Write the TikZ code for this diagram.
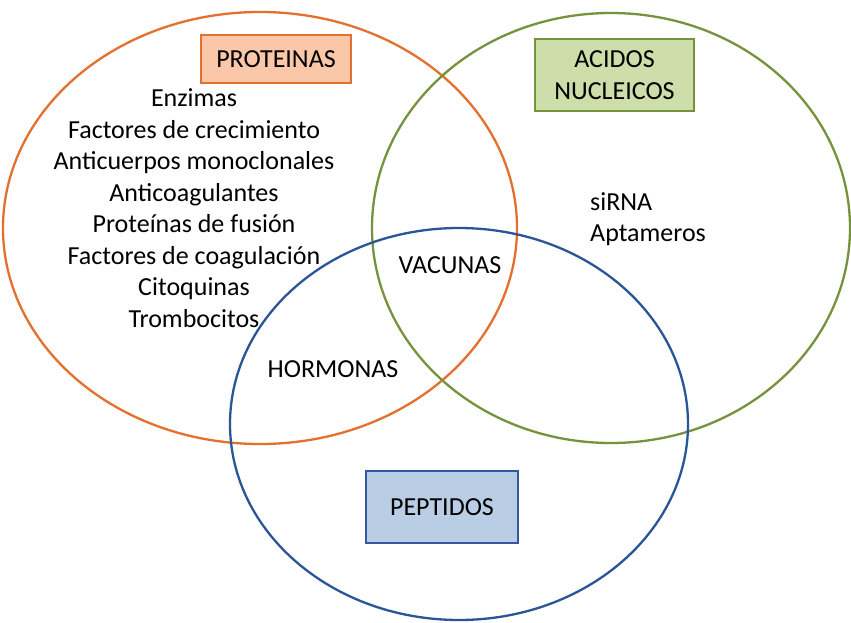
\documentclass[tikz,border=0pt]{standalone}
\usepackage{fontspec}
\setmainfont{Carlito}
\definecolor{corange}{RGB}{228,112,45}
\definecolor{cgreen}{RGB}{118,146,60}
\definecolor{cblue}{RGB}{42,85,150}
\definecolor{forange}{RGB}{250,200,168}
\definecolor{fgreen}{RGB}{205,222,170}
\definecolor{fblue}{RGB}{185,205,228}
\definecolor{bblue}{RGB}{50,90,155}
\tikzset{
  ring/.style={line width=2.3pt},
  labelbox/.style={draw, line width=2.3pt, inner sep=0pt, align=center},
  txt/.style={inner sep=0pt, font=\fontsize{26}{31.5}\selectfont}
}
\begin{document}
\begin{tikzpicture}[x=1pt,y=-1pt]
\useasboundingbox[fill=white] (0,0) rectangle (851,623);
\draw[ring, corange] (260,228) ellipse [x radius=257, y radius=216];
\draw[ring, cgreen] (611,228) ellipse [x radius=239, y radius=215];
\draw[ring, cblue] (459,424) ellipse [x radius=229, y radius=196];
\node[labelbox, draw=corange, fill=forange, minimum width=150pt, minimum height=48pt, txt] (prot) at (276,59) {PROTEINAS};
\node[labelbox, draw=cgreen, fill=fgreen, minimum width=159pt, minimum height=72pt, txt] (acid) at (614.5,75) {ACIDOS\\NUCLEICOS};
\node[labelbox, draw=bblue, fill=fblue, minimum width=152pt, minimum height=72pt, txt] (pept) at (442,507) {PEPTIDOS};
\node[txt, align=center] (list) at (194,208) {Enzimas\\Factores de crecimiento\\Anticuerpos monoclonales\\Anticoagulantes\\Proteínas de fusión\\Factores de coagulación\\Citoquinas\\Trombocitos};
\node[txt, align=left, anchor=west] (nuc) at (590,219) {siRNA\\Aptameros};
\node[txt] (vac) at (450,265) {VACUNAS};
\node[txt] (hor) at (333,369) {HORMONAS};
\end{tikzpicture}
\end{document}
